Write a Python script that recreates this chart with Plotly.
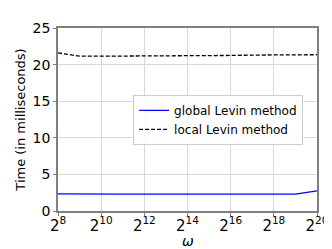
import plotly.graph_objects as go
import math

exponents = [8, 9, 10, 11, 12, 13, 14, 15, 16, 17, 18, 19, 20]
omega = [2 ** e for e in exponents]
global_levin = [2.35, 2.3, 2.3, 2.3, 2.3, 2.3, 2.3, 2.3, 2.3, 2.3, 2.3, 2.3, 2.75]
local_levin = [21.6, 21.15, 21.15, 21.15, 21.2, 21.2, 21.25, 21.25, 21.25, 21.3, 21.3, 21.35, 21.35]
tick_exps = [8, 10, 12, 14, 16, 18, 20]

FONT = "DejaVu Sans"
fig = go.Figure()
fig.add_trace(go.Scatter(x=omega, y=global_levin, mode="lines", name="global Levin method",
                         line=dict(color="#0000ff", width=1.3)))
fig.add_trace(go.Scatter(x=omega, y=local_levin, mode="lines", name="local Levin method",
                         line=dict(color="black", width=1.3, dash="4px,2px")))

fig.update_layout(
    width=332, height=249,
    margin=dict(l=48, r=23, t=17, b=46),
    paper_bgcolor="white", plot_bgcolor="white",
    font=dict(family=FONT, size=12, color="black"),
    showlegend=True,
    legend=dict(x=0.29, y=0.635, xanchor="left", yanchor="top",
                bgcolor="rgba(255,255,255,0.85)", bordercolor="#cccccc", borderwidth=1,
                font=dict(size=12, family=FONT), tracegroupgap=0, itemwidth=30),
    xaxis=dict(type="log", range=[8 * math.log10(2), 20 * math.log10(2)],
               tickvals=[2 ** e for e in tick_exps],
               ticktext=[f"2<sup>{e}</sup>" for e in tick_exps],
               showgrid=True, gridcolor="#d9d9d9", gridwidth=1,
               showline=True, linecolor="#808080", linewidth=1.5, mirror=True,
               ticks="outside", ticklen=3, tickcolor="#808080",
               ticklabelstandoff=-3,
               tickfont=dict(size=15)),
    yaxis=dict(range=[0, 25], tickvals=[0, 5, 10, 15, 20, 25],
               showgrid=True, gridcolor="#d9d9d9", gridwidth=1,
               showline=True, linecolor="#808080", linewidth=1.5, mirror=True,
               ticks="outside", ticklen=3, tickcolor="#808080",
               tickfont=dict(size=14), zeroline=False,
               title=dict(text="Time (in milliseconds)", font=dict(size=13), standoff=4)),
    annotations=[dict(text="<i>ω</i>", xref="paper", yref="paper", x=0.5, y=-0.165,
                      xanchor="center", yanchor="middle", showarrow=False,
                      font=dict(size=14, family=FONT))],
)
fig.write_html("out.html")
